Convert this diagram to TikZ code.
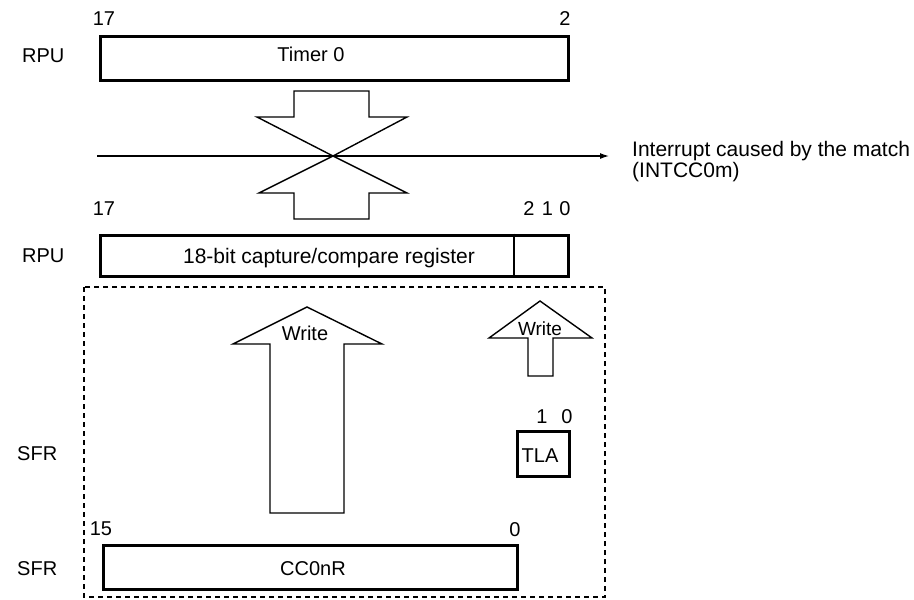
\documentclass[tikz,border=0pt]{standalone}
\usepackage{fontspec}
\setmainfont{Liberation Sans}
\usetikzlibrary{arrows.meta}

\begin{document}
\begin{tikzpicture}[x=1pt,y=-1pt,
  regbox/.style={draw, line width=3.2pt, inner sep=0pt, anchor=north west},
  shapeline/.style={draw, line width=1.4pt, line join=miter},
  txt/.style={inner sep=0pt, font=\fontsize{20}{22}\selectfont},
  widetxt/.style={inner sep=0pt, font=\fontsize{21}{22}\selectfont},
  bitno/.style={inner sep=0pt, anchor=base, font=\fontsize{20}{22}\selectfont},
  side/.style={inner sep=0pt, anchor=base west, font=\fontsize{20}{22}\selectfont},
  groupbox/.style={draw, line width=1.4pt, dash pattern=on 5pt off 4pt}
]
\useasboundingbox (0,0) rectangle (914,600);

% registers
\node[regbox, minimum width=468pt, minimum height=44pt] (timer) at (98.5,34.5) {};
\node[regbox, minimum width=468pt, minimum height=41pt] (ccreg) at (98.5,233.5) {};
\node[regbox, minimum width=52pt, minimum height=45pt] (tla) at (515.5,429.5) {};
\node[regbox, minimum width=414pt, minimum height=44pt] (cc0nr) at (101.5,543.5) {};
\coordinate (divtop) at (514,233.5);
\coordinate (divbot) at (514,274.5);
\draw[line width=1.4pt] (divtop) -- (divbot);

% register names
\node[txt, anchor=base] (timertxt) at (311,61) {Timer 0};
\node[widetxt, anchor=base] (ccregtxt) at (329,263) {18-bit capture/compare register};
\node[txt, anchor=base] (tlatxt) at (540,462) {TLA};
\node[txt, anchor=base] (cc0nrtxt) at (313,575) {CC0nR};

% bit numbers
\node[bitno] (t17) at (104,25) {17};
\node[bitno] (t2) at (565,25) {2};
\node[bitno] (c17) at (104,215) {17};
\node[bitno] (c2) at (529,215) {2};
\node[bitno] (c1) at (547.5,215) {1};
\node[bitno] (c0) at (565,215) {0};
\node[bitno] (l1) at (542,423) {1};
\node[bitno] (l0) at (567,423) {0};
\node[bitno] (s15) at (101,535) {15};
\node[bitno] (s0) at (515,536) {0};

% register kinds
\node[side] (k1) at (22,62) {RPU};
\node[side] (k2) at (22,262) {RPU};
\node[side] (k3) at (17,460) {SFR};
\node[side] (k4) at (17,575) {SFR};

% comparison arrows meeting at the match point
\coordinate (match) at (333,156);
\draw[shapeline] (294,91) -- (369,91) -- (369,117) -- (407,117) -- (match)
  -- (257,117) -- (294,117) -- cycle;
\draw[shapeline] (294,219) -- (369,219) -- (369,193) -- (407,193) -- (match)
  -- (259,193) -- (294,193) -- cycle;

% interrupt line
\coordinate (irqstart) at (97,156);
\coordinate (irqend) at (609,156);
\draw[line width=1.2pt, -{Latex[length=9pt,width=6pt]}] (irqstart) -- (irqend);
\node[widetxt, anchor=base west] (irq) at (632,156) {Interrupt caused by the match};
\node[widetxt, anchor=base west] (irq2) at (632,177) {(INTCC0m)};

% SFR group
\draw[groupbox] (84,287) rectangle (605,597);

% write arrows
\draw[shapeline] (307,307) -- (382,344) -- (344,344) -- (344,513) -- (270,513)
  -- (270,344) -- (233,344) -- cycle;
\node[txt, anchor=base] (w1) at (305,340) {Write};
\draw[shapeline] (540,301) -- (592,338) -- (553,338) -- (553,376) -- (528,376)
  -- (528,338) -- (489,338) -- cycle;
\node[txt, anchor=base, font=\fontsize{19}{20}\selectfont] (w2) at (540,335) {Write};
\end{tikzpicture}
\end{document}
